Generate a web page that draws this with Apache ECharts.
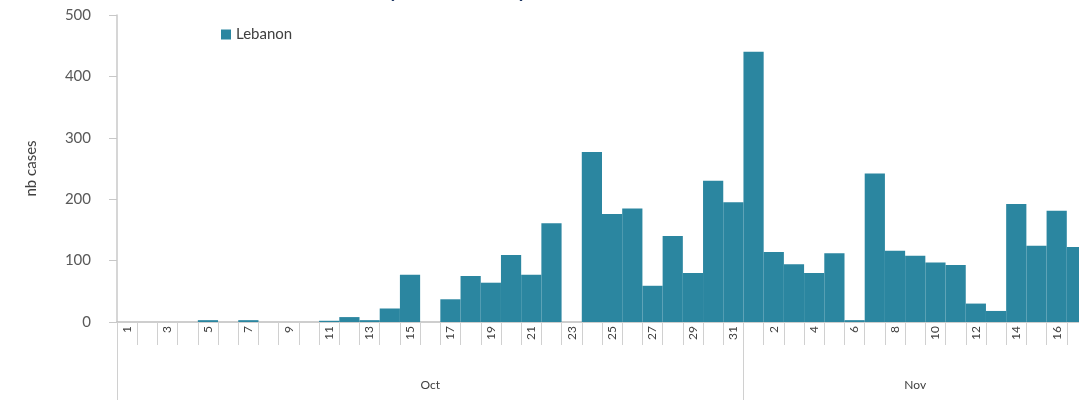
<!DOCTYPE html>
<html>
<head>
<meta charset="utf-8">
<script src="https://cdn.jsdelivr.net/npm/echarts@6/dist/echarts.min.js"></script>
<style>
html,body{margin:0;padding:0;background:#fff;}
#chart{width:1079px;height:400px;}
</style>
</head>
<body>
<div id="chart"></div>
<script>
// Day-of-month categories (Oct 1 – Nov 17)
var days = ['1','2','3','4','5','6','7','8','9','10','11','12','13','14','15','16','17','18','19','20','21','22','23','24','25','26','27','28','29','30','31',
            '1','2','3','4','5','6','7','8','9','10','11','12','13','14','15','16','17'];
// Month labels (shown once, centred under each month block)
var monthLabels = ['','','','','','','','','','','','','','','','Oct','','','','','','','','','','','','','','','',
                   '','','','','','','','','Nov','','','','','','','',''];
// Daily cases, Lebanon
var lebanon = [0,0,0,0,3,0,3,0,0,0,2,8,3,22,77,0,37,75,64,109,77,161,0,277,176,185,59,140,80,230,195,
               440,114,94,80,112,3,242,116,108,97,93,30,18,192,124,181,122];
var yTicks = {min:0, max:500, interval:100};

var chart = echarts.init(document.getElementById('chart'));
var font = 'Lato, "Open Sans", sans-serif';
chart.setOption({
  animation:false,
  backgroundColor:'#ffffff',
  title:{
    text:'(by date of report)',
    left:362, top:-30,
    textStyle:{fontFamily:font, fontSize:26, fontWeight:'normal', color:'#1f3864'}
  },
  legend:{
    data:['Lebanon'], left:216, top:22,
    itemWidth:10, itemHeight:10, itemGap:6,
    icon:'rect',
    textStyle:{fontFamily:font, fontSize:15, color:'#404040'}
  },
  grid:{left:117, top:15, width:970, bottom:78, containLabel:false, outerBoundsMode:'none'},
  xAxis:[{
    type:'category', data:days, position:'bottom', boundaryGap:true,
    axisLine:{show:true, lineStyle:{color:'#bfbfbf', width:1.5}},
    axisTick:{show:true, interval:0, length:23, lineStyle:{color:'#d0d0d0'}},
    axisLabel:{interval:1, rotate:90, margin:4, fontFamily:font, fontSize:12, color:'#404040'}
  },{
    type:'category', data:monthLabels, position:'bottom', boundaryGap:true,
    axisLine:{show:false},
    axisTick:{show:true, length:82, lineStyle:{color:'#d0d0d0'},
      interval:function(i){return i===0 || i===31;}},
    axisLabel:{interval:0, margin:57, fontFamily:font, fontSize:12, color:'#404040'}
  }],
  yAxis:{
    type:'value', min:yTicks.min, max:yTicks.max, interval:yTicks.interval,
    name:'nb cases', nameLocation:'middle', nameGap:78,
    nameTextStyle:{fontFamily:font, fontSize:15, color:'#404040'},
    axisLine:{show:true, lineStyle:{color:'#c8c8c8', width:1.5}},
    axisTick:{show:true, length:8, lineStyle:{color:'#c8c8c8'}},
    splitLine:{show:false},
    axisLabel:{margin:26, fontFamily:font, fontSize:15, color:'#595959'}
  },
  series:[{
    name:'Lebanon', type:'bar', xAxisIndex:0, data:lebanon,
    barCategoryGap:'0%',
    itemStyle:{color:'#2b86a0'}
  }]
});
</script>
</body>
</html>
